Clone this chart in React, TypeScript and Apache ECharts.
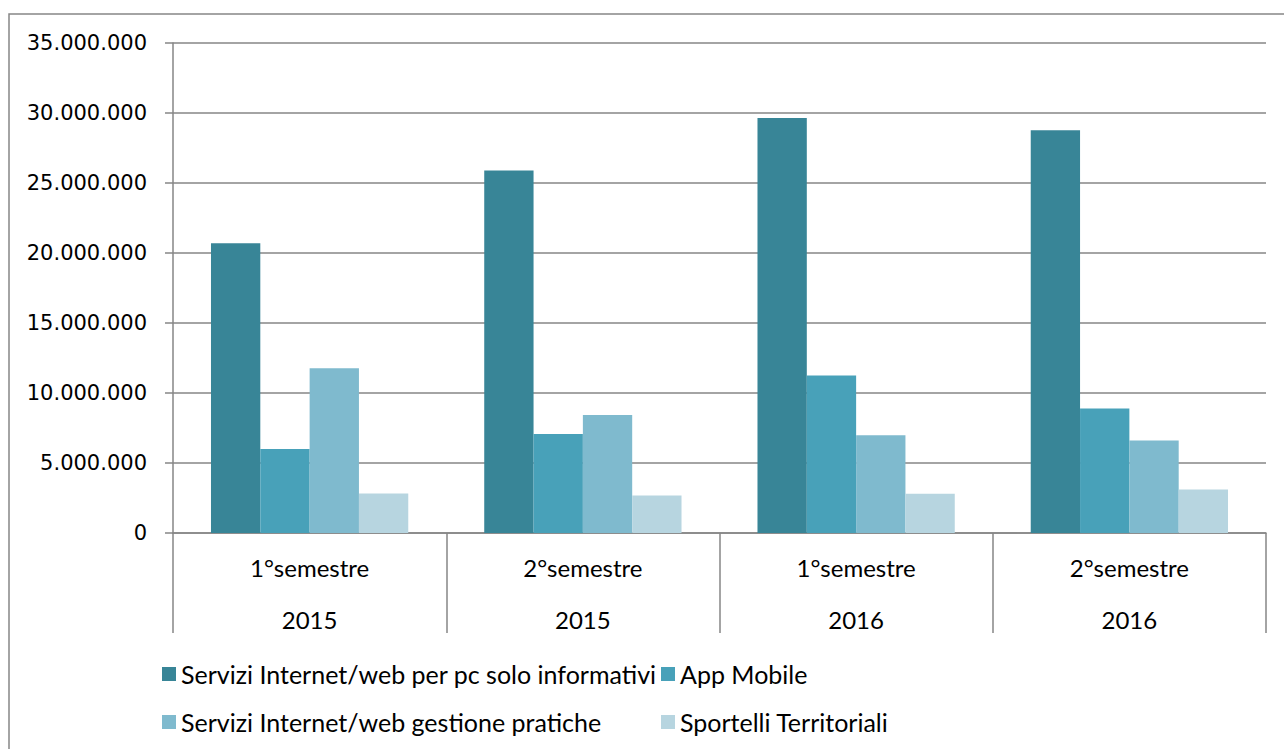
import React, { useEffect, useRef } from "react";
import * as echarts from "echarts";

const semesters = ["1°semestre", "2°semestre", "1°semestre", "2°semestre"];
const years = ["2015", "2015", "2016", "2016"];

const seriesNames = [
  "Servizi Internet/web per pc solo informativi",
  "App Mobile",
  "Servizi Internet/web gestione pratiche",
  "Sportelli Territoriali",
];

const webInformativi = [20700000, 25900000, 29650000, 28770000];
const appMobile = [6000000, 7070000, 11250000, 8890000];
const webPratiche = [11770000, 8420000, 6980000, 6600000];
const sportelli = [2820000, 2680000, 2800000, 3100000];

const colors = ["#388597", "#48a1b9", "#7fbace", "#b7d5e0"];

const fmt = (v: number) =>
  String(Math.round(v)).replace(/\B(?=(\d{3})+(?!\d))/g, ".");

export default function App() {
  const ref = useRef<HTMLDivElement>(null);
  useEffect(() => {
    if (!ref.current) return;
    const chart = echarts.init(ref.current, null, { renderer: "svg" });
    const values = [webInformativi, appMobile, webPratiche, sportelli];
    const labelFont = "Lato, 'Noto Sans', sans-serif";
    const legendPos = [
      { left: 162, top: 661 },
      { left: 661, top: 661 },
      { left: 162, top: 709 },
      { left: 661, top: 709 },
    ];
    chart.setOption({
      animation: false,
      backgroundColor: "#ffffff",
      color: colors,
      grid: { left: 173, right: 18, top: 43, bottom: 216, containLabel: false },
      graphic: [
        {
          type: "rect",
          shape: { x: 9, y: 14, width: 1400, height: 900 },
          style: { fill: "none", stroke: "#868686", lineWidth: 1.5 },
          silent: true,
        },
      ],
      legend: seriesNames.map((n, i) => ({
        data: [n],
        left: legendPos[i].left,
        top: legendPos[i].top,
        padding: 0,
        itemWidth: 14,
        itemHeight: 14,
        icon: "rect",
        textStyle: {
          fontFamily: labelFont,
          fontSize: 25,
          color: "#000000",
          lineHeight: 26,
        },
        selectedMode: false,
      })),
      xAxis: {
        type: "category",
        data: semesters.map((s, i) => s + "\n" + years[i]),
        axisLine: { show: true, lineStyle: { color: "#868686", width: 1.5 } },
        axisTick: {
          show: true,
          interval: 0,
          length: 100,
          alignWithLabel: false,
          lineStyle: { color: "#868686", width: 1.5 },
        },
        axisLabel: {
          interval: 0,
          margin: 8,
          fontFamily: labelFont,
          fontSize: 24,
          lineHeight: 52,
          color: "#000000",
        },
      },
      yAxis: {
        type: "value",
        min: 0,
        max: 35000000,
        interval: 5000000,
        axisLine: { show: true, lineStyle: { color: "#868686", width: 1.5 } },
        axisTick: { show: true, length: 8, lineStyle: { color: "#868686", width: 1.5 } },
        splitLine: { show: true, lineStyle: { color: "#868686", width: 1.5 } },
        axisLabel: {
          margin: 26,
          fontFamily: "'DejaVu Sans', sans-serif",
          fontSize: 21,
          color: "#000000",
          formatter: (v: number) => fmt(v),
        },
      },
      series: seriesNames.map((n, i) => ({
        name: n,
        type: "bar",
        data: values[i],
        barGap: "0%",
        barCategoryGap: "27.8%",
        itemStyle: { color: colors[i] },
      })),
    });
    return () => chart.dispose();
  }, []);
  return (
    <div
      ref={ref}
      style={{ position: "fixed", left: 0, top: 0, width: 1284, height: 749 }}
    />
  );
}
